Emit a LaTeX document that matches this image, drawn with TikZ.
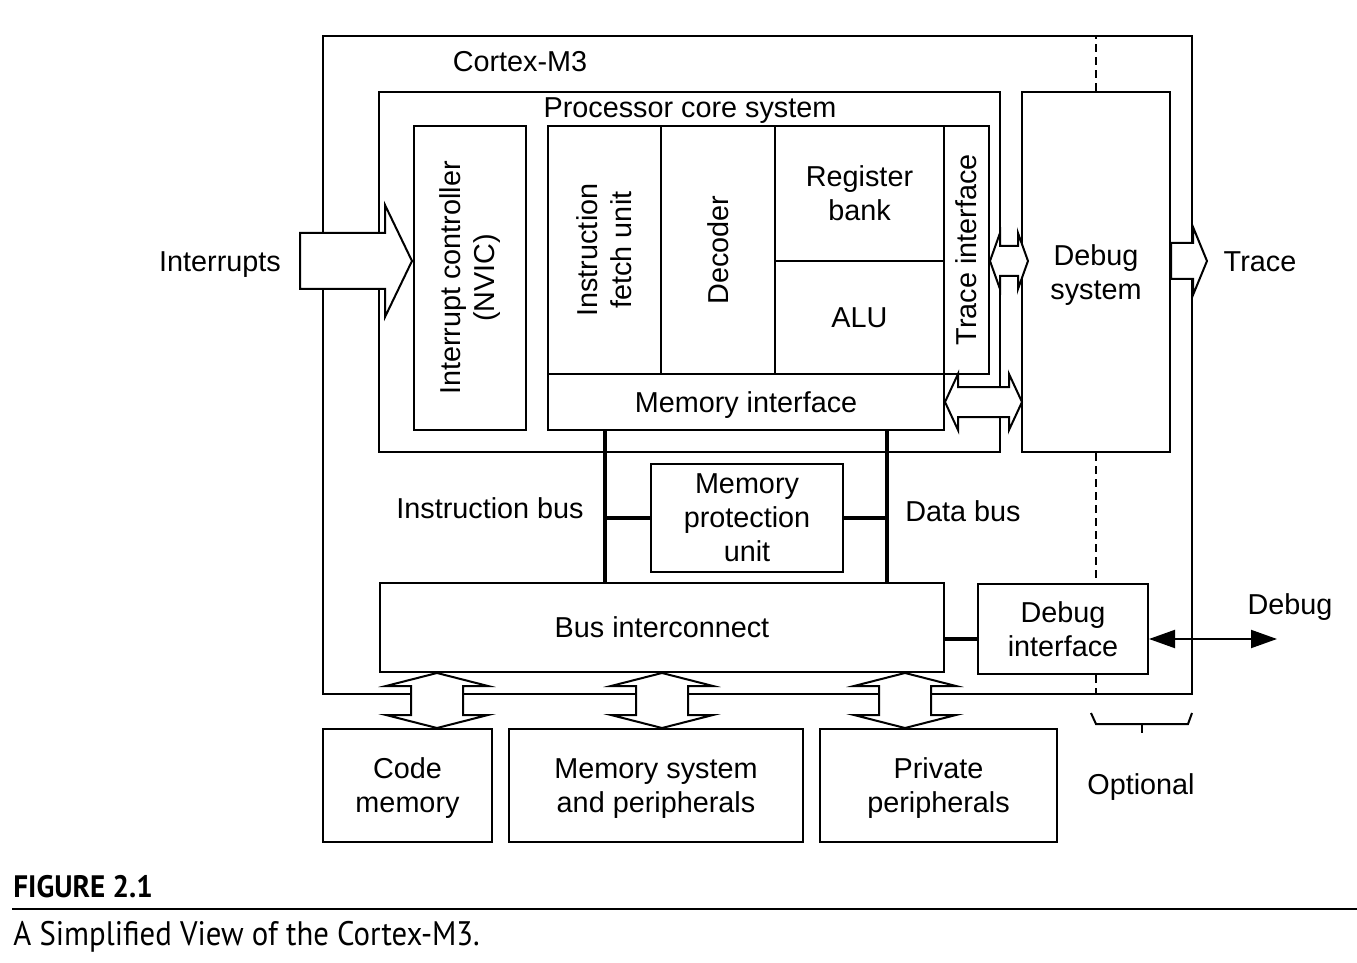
\documentclass[tikz,border=0pt]{standalone}
\usepackage{fontspec}
\setmainfont{Liberation Sans}
\newfontfamily\capfont[FakeStretch=0.905]{PT Sans}
\newfontfamily\capboldfont[FakeStretch=0.94]{PT Sans Bold}
\usetikzlibrary{fit,arrows.meta,calc}

\newcommand\hdbl[3]{% left tip, right tip, head length
 \filldraw[barrow] (#1) -- ($(#1)+(#3,-28)$) -- ($(#1)+(#3,-15)$) -- ($(#2)+(-#3,-15)$) -- ($(#2)+(-#3,-28)$) -- (#2) -- ($(#2)+(-#3,28)$) -- ($(#2)+(-#3,15)$) -- ($(#1)+(#3,15)$) -- ($(#1)+(#3,28)$) -- cycle;}
\newcommand\vdbl[2]{% top tip, bottom tip
 \filldraw[barrow] (#1) -- ($(#1)+(51,13)$) -- ($(#1)+(26,13)$) -- ($(#2)+(26,-13)$) -- ($(#2)+(51,-13)$) -- (#2) -- ($(#2)+(-51,-13)$) -- ($(#2)+(-26,-13)$) -- ($(#1)+(-26,13)$) -- ($(#1)+(-51,13)$) -- cycle;}

\begin{document}
\begin{tikzpicture}[x=0.5pt,y=-0.5pt,
  every node/.style={font=\fontsize{14.4}{17}\selectfont, align=center},
  box/.style={draw, line width=1pt, inner sep=0pt},
  lbl/.style={inner sep=0pt},
  barrow/.style={draw, fill=white, line width=1pt, line join=miter},
  busline/.style={line width=2.3pt},
  dashline/.style={line width=1pt, dash pattern=on 4pt off 2.5pt},
  thin/.style={line width=1pt}]
\useasboundingbox (0,0) rectangle (1357,963);

% containers
\node[box, fit={(323,36) (1192,694)}] (cm3) {};
\node[lbl] (cm3lbl) at (520,62) {Cortex-M3};
\node[box, fit={(379,92) (1000,452)}] (pcs) {};
\node[lbl] (pcslbl) at (690,111) {Processor core system};

% core blocks
\node[box, fit={(414,126) (526,430)}] (nvic) {};
\node[lbl, rotate=90] at (nvic.center) {Interrupt controller\\(NVIC)};
\node[box, fit={(548,126) (661,374)}] (ifu) {};
\node[lbl, rotate=90] at (ifu.center) {Instruction\\fetch unit};
\node[box, fit={(661,126) (775,374)}] (dec) {};
\node[lbl, rotate=90] at (dec.center) {Decoder};
\node[box, fit={(775,126) (944,261)}] (reg) {};
\node[lbl] at (reg.center) {Register\\bank};
\node[box, fit={(775,261) (944,374)}] (alu) {};
\node[lbl] at (alu.center) {ALU};
\node[box, fit={(944,126) (989,374)}] (trace) {};
\node[lbl, rotate=90] at (trace.center) {Trace interface};
\node[box, fit={(548,374) (944,430)}] (memint) {};
\node[lbl] at ($(memint.center)+(0,3)$) {Memory interface};
\node[box, fit={(1022,92) (1170,452)}] (dsys) {};
\node[lbl] at ($(dsys.center)+(0,3)$) {Debug\\system};

\node[box, fit={(651,464) (843,572)}] (mpu) {};
\node[lbl] at (mpu.center) {Memory\\protection\\unit};
\node[box, fit={(380,583) (944,672)}] (bus) {};
\node[lbl] at (bus.center) {Bus interconnect};
\node[box, fit={(978,584) (1148,674)}] (dbgif) {};
\node[lbl] at (dbgif.center) {Debug\\interface};

\node[box, fit={(323,729) (492,842)}] (code) {};
\node[lbl] at ($(code.center)+(0,3)$) {Code\\memory};
\node[box, fit={(509,729) (803,842)}] (memsys) {};
\node[lbl] at ($(memsys.center)+(0,3)$) {Memory system\\and peripherals};
\node[box, fit={(820,729) (1057,842)}] (priv) {};
\node[lbl] at ($(priv.center)+(0,3)$) {Private\\peripherals};

% labels
\node[lbl] (intlbl) at (220,265) {Interrupts};
\node[lbl] (trlbl) at (1260,262) {Trace};
\node[lbl] (iblbl) at (490,508) {Instruction bus};
\node[lbl] (dblbl) at (963,511) {Data bus};
\node[lbl] (dbglbl) at (1290,607) {Debug};
\node[lbl] (optlbl) at (1141,787) {Optional};

% helper coordinates
\coordinate (ty) at (0,261);
\coordinate (ib) at (605,0);
\coordinate (db) at (887,0);
\coordinate (dy) at (0,639);
\coordinate (ax1) at (437,0);
\coordinate (ax2) at (662,0);
\coordinate (ax3) at (905,0);
\coordinate (intail) at (300,261);
\coordinate (dbgout) at (1277,639);

% buses
\draw[busline] (memint.south -| ib) -- (bus.north -| ib);
\draw[busline] (memint.south -| db) -- (bus.north -| db);
\draw[busline] (ib |- mpu.west) -- (mpu.west);
\draw[busline] (mpu.east) -- (db |- mpu.east);
\draw[busline] (bus.east |- dy) -- (dbgif.west |- dy);

% dashed optional boundary
\draw[dashline] (dsys.north) -- (dsys.north |- cm3.north);
\draw[dashline] (dsys.south) -- (dsys.south |- dbgif.north);
\draw[dashline] (dsys.south |- dbgif.south) -- (dsys.south |- cm3.south);

% debug port arrow
\draw[thin, {Triangle[length=13pt,width=9pt]}-{Triangle[length=13pt,width=9pt]}] (dbgif.east |- dy) -- (dbgout);

% brace
\draw[thin] (1091,713) -- (1096,724) -- (1188,724) -- (1192,713);
\draw[thin] (1142,724) -- (1142,733);

% block arrows
\filldraw[barrow] ($(intail)+(0,-28)$) -- ($(nvic.west |- ty)+(-28,-28)$) -- ($(nvic.west |- ty)+(-28,-56)$) -- ($(nvic.west |- ty)+(-1,0)$) -- ($(nvic.west |- ty)+(-28,56)$) -- ($(nvic.west |- ty)+(-28,28)$) -- ($(intail)+(0,28)$) -- cycle;
\filldraw[barrow] ($(dsys.east |- ty)+(0,-18)$) -- ($(cm3.east |- ty)+(0,-18)$) -- ($(cm3.east |- ty)+(0,-34)$) -- ($(cm3.east |- ty)+(14,0)$) -- ($(cm3.east |- ty)+(0,34)$) -- ($(cm3.east |- ty)+(0,18)$) -- ($(dsys.east |- ty)+(0,18)$) -- cycle;
\hdbl{trace.east |- ty}{$(dsys.west |- ty)+(7,0)$}{10}
\hdbl{memint.east}{$(dsys.west |- memint.east)+(1,0)$}{13}
\vdbl{bus.south -| ax1}{code.north -| ax1}
\vdbl{bus.south -| ax2}{code.north -| ax2}
\vdbl{bus.south -| ax3}{code.north -| ax3}

% caption
\node[anchor=base west, inner sep=0pt, font=\capboldfont\fontsize{15.5}{18}\selectfont] (figno) at (13,897) {FIGURE 2.1};
\draw[thin] (12,909) -- (1357,909);
\node[anchor=base west, inner sep=0pt, font=\capfont\fontsize{17}{20}\selectfont] (capt) at (13,945) {A Simplified View of the Cortex-M3.};
\end{tikzpicture}
\end{document}
